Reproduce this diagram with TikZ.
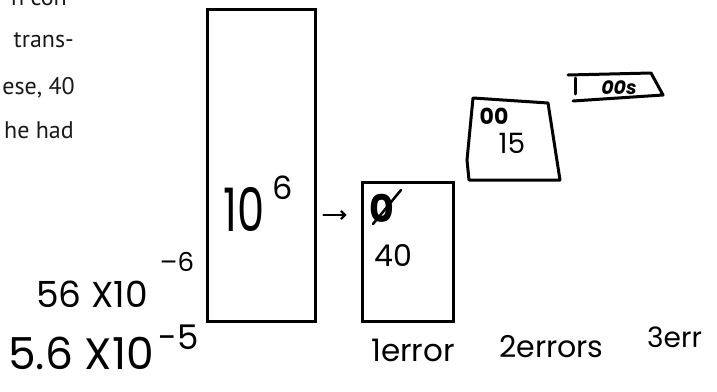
\documentclass[tikz,border=0pt]{standalone}
\usepackage{fontspec}
\setmainfont{PT Sans}
\newfontfamily\hand{Poppins}
\usetikzlibrary{arrows.meta}
\begin{document}
\begin{tikzpicture}[x=1pt,y=-1pt,
  box/.style={draw, line width=3pt, inner sep=0pt},
  hw/.style={font=\hand\fontsize{#1}{#1}\selectfont, inner sep=0pt},
  hwb/.style={font=\hand\bfseries\fontsize{#1}{#1}\selectfont, inner sep=0pt},
  print/.style={font=\fontsize{24}{28}\selectfont, inner sep=0pt, anchor=base east, text=black!90},
  stroke/.style={line width=3pt, line cap=round, line join=round},
  arrowline/.style={line width=2.2pt, line cap=round, -{Straight Barb[length=4pt,width=8pt]}}]
\useasboundingbox (0,0) rectangle (717,391);
% printed text fragment
\node[print] (p1) at (67,5) {n con};
\node[print] (p2) at (74,47) {trans-};
\node[print] (p3) at (75,94) {ese, 40};
\node[print] (p4) at (74,138) {he had};
% big box
\node[box, minimum width=108pt, minimum height=312pt] (big) at (261,165) {};
\node[hw=60] (ten) at (244,209) {\scalebox{0.72}[1]{10}};
\node[hw=32] (six) at (283,188) {6};
% box 2
\node[box, minimum width=91pt, minimum height=139pt] (b2) at (407.5,251.5) {};
\node[hwb=38] (z2) at (382,208) {0};
\draw[stroke, line width=2.5pt] (373,224) -- (401,190);
\node[hw=30] (forty) at (393,255) {40};
\draw[arrowline, shorten <=7pt, shorten >=14pt] (big.east |- 0,215) -- (b2.west |- 0,215);
% box 3
\coordinate (b3tl) at (473,98);
\coordinate (b3tr) at (548,103);
\coordinate (b3br) at (560,180);
\coordinate (b3bl) at (469,180);
\draw[stroke] (b3tl) -- (b3tr) -- (b3br) -- (b3bl) -- (467,160) -- cycle;
\node[hwb=22] (z3) at (494,116) {00};
\node[hw=28] (fifteen) at (512,143) {15};
% box 4
\coordinate (b4tl) at (568,75);
\coordinate (b4tr) at (651,73);
\coordinate (b4br) at (663,95);
\coordinate (b4bl) at (573,101);
\draw[stroke] (b4tl) -- (b4tr) -- (b4br) -- (b4bl);
\draw[stroke] (575,78) -- (575,94);
\node[hwb=19] (z4) at (619,88) {\itshape 00s};
% left labels
\node[hw=36, anchor=west] (l1) at (36,294) {56 X10};
\node[hw=26] (l1e) at (177,262) {–6};
\node[hw=44, anchor=west] (l2) at (8,353) {5.6 X10};
\node[hw=34] (l2e) at (179,337) {-5};
% bottom labels
\node[hw=31, anchor=west] (e1) at (371,350) {1error};
\node[hw=30, anchor=west] (e2) at (499,347) {2errors};
\node[hw=28, anchor=west] (e3) at (647,337) {3err};
\end{tikzpicture}
\end{document}
